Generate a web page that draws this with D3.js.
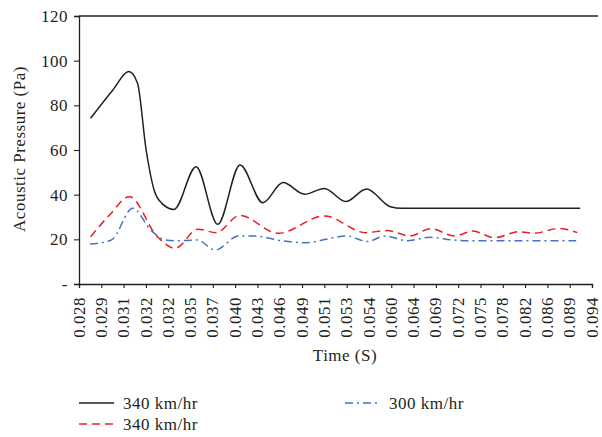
<!doctype html>
<html>
  <head>
    <meta charset="utf-8">
    <script src="https://d3js.org/d3.v7.min.js"></script>
    <style>
      body { margin: 0; background: #fff; }
      svg text { font-family: "Liberation Serif", "Times New Roman", serif; fill: #231f20; letter-spacing: 0.5px; }
    </style>
  </head>
  <body>
    <svg id="chart" width="602" height="437"></svg>
    <script>
      // category labels on the time axis
      var timeLabels = ["0.028","0.029","0.031","0.032","0.032","0.035","0.037","0.040",
        "0.043","0.046","0.049","0.051","0.053","0.054","0.060","0.064","0.069","0.072",
        "0.075","0.078","0.082","0.086","0.089","0.094"];
      var yTicks = [0, 20, 40, 60, 80, 100, 120];

      // positions along the category axis (in category steps) and values in Pa
      var solidAt = [0.52,1.52,2.23,2.62,3.01,3.37,3.73,4.26,5.25,6.22,7.22,8.24,9.15,10.11,11.00,11.96,12.89,13.96,14.48,22.47];
      var solidVal = [74.2,86.9,95.1,90,60,42,36,33.4,52.5,26.7,53.3,36.4,45.4,40.2,42.8,36.9,42.5,34.6,33.9,33.9];

      var dashAt = [0.52,1.38,2.26,3.51,4.31,5.33,6.15,7.20,8.93,11.00,12.85,13.81,14.84,15.76,16.84,17.66,18.62,19.73,20.40,21.51,22.34];
      var dashVal = [21.2,31,39.1,21.2,16,24.5,23,30.7,22.7,30.5,23,23.9,21.5,24.8,21.5,23.7,20.7,23.4,22.7,24.9,23];

      var dotAt = [0.49,1.45,2.41,3.23,3.89,4.34,5.30,6.11,7.15,7.89,9.07,10.11,12.03,12.92,13.73,14.70,15.73,16.77,17.36,22.29];
      var dotVal = [17.9,19.7,33.9,24,19.7,19.3,19.7,15.2,21.5,21.5,19.4,18.5,21.5,19,21.5,19.4,20.9,19.7,19.4,19.4];

      var series = [
        {name: "340 km/hr", at: solidAt, val: solidVal, color: "#231f20", dash: null},
        {name: "340 km/hr", at: dashAt, val: dashVal, color: "#ed1c24", dash: "8,5"},
        {name: "300 km/hr", at: dotAt, val: dotVal, color: "#4472c4", dash: "8,4,2,4"}
      ];

      var margin = {top: 16, left: 79};
      var w = 513, h = 268;
      var svg = d3.select("#chart");
      var g = svg.append("g").attr("transform", "translate(" + margin.left + "," + margin.top + ")");

      var xScale = d3.scaleLinear().domain([0, timeLabels.length - 1]).range([0, w]);
      var yScale = d3.scaleLinear().domain([0, 120]).range([h, 0]);

      // top border
      g.append("line").attr("x1", 0).attr("x2", w + 6).attr("y1", 0).attr("y2", 0)
        .attr("stroke", "#231f20").attr("stroke-width", 1.3);

      var yAxis = d3.axisLeft(yScale).tickValues(yTicks).tickSize(5).tickPadding(6)
        .tickFormat(d => d === 0 ? "-" : d);
      var yG = g.append("g").call(yAxis);
      yG.selectAll("text").style("font-size", "17px");

      var xAxis = d3.axisBottom(xScale).tickValues(d3.range(timeLabels.length))
        .tickSize(4).tickFormat(i => timeLabels[i]);
      var xG = g.append("g").attr("transform", "translate(0," + h + ")").call(xAxis);
      xG.selectAll("text")
        .style("font-size", "17px")
        .attr("text-anchor", "end")
        .attr("transform", "rotate(-90)")
        .attr("x", -13).attr("y", 0).attr("dy", "0.3em");

      [xG, yG].forEach(a => {
        a.select(".domain").attr("stroke", "#231f20").attr("stroke-width", 1.3);
        a.selectAll(".tick line").attr("stroke", "#231f20").attr("stroke-width", 1.1);
      });

      var line = d3.line().curve(d3.curveMonotoneX);
      series.forEach(s => {
        var pts = s.at.map((a, i) => [xScale(a), yScale(s.val[i])]);
        g.append("path").attr("d", line(pts))
          .attr("fill", "none").attr("stroke", s.color).attr("stroke-width", 1.5)
          .attr("stroke-dasharray", s.dash);
      });

      // axis titles
      svg.append("text").attr("x", 345).attr("y", 361).attr("text-anchor", "middle")
        .style("font-size", "17px").text("Time (S)");
      svg.append("text").attr("transform", "translate(25,149) rotate(-90)")
        .attr("text-anchor", "middle").style("font-size", "17px").text("Acoustic Pressure (Pa)");

      // legend
      var legendPos = [[79, 403], [79, 424], [345, 403]];
      series.forEach((s, i) => {
        var p = legendPos[i];
        var lg = svg.append("g").attr("transform", "translate(" + p[0] + "," + p[1] + ")");
        lg.append("line").attr("x1", 0).attr("x2", 35).attr("y1", 0).attr("y2", 0)
          .attr("stroke", s.color).attr("stroke-width", 1.5).attr("stroke-dasharray", s.dash);
        lg.append("text").attr("x", 44).attr("y", 5.5).style("font-size", "17px").text(s.name);
      });
    </script>
  </body>
</html>
